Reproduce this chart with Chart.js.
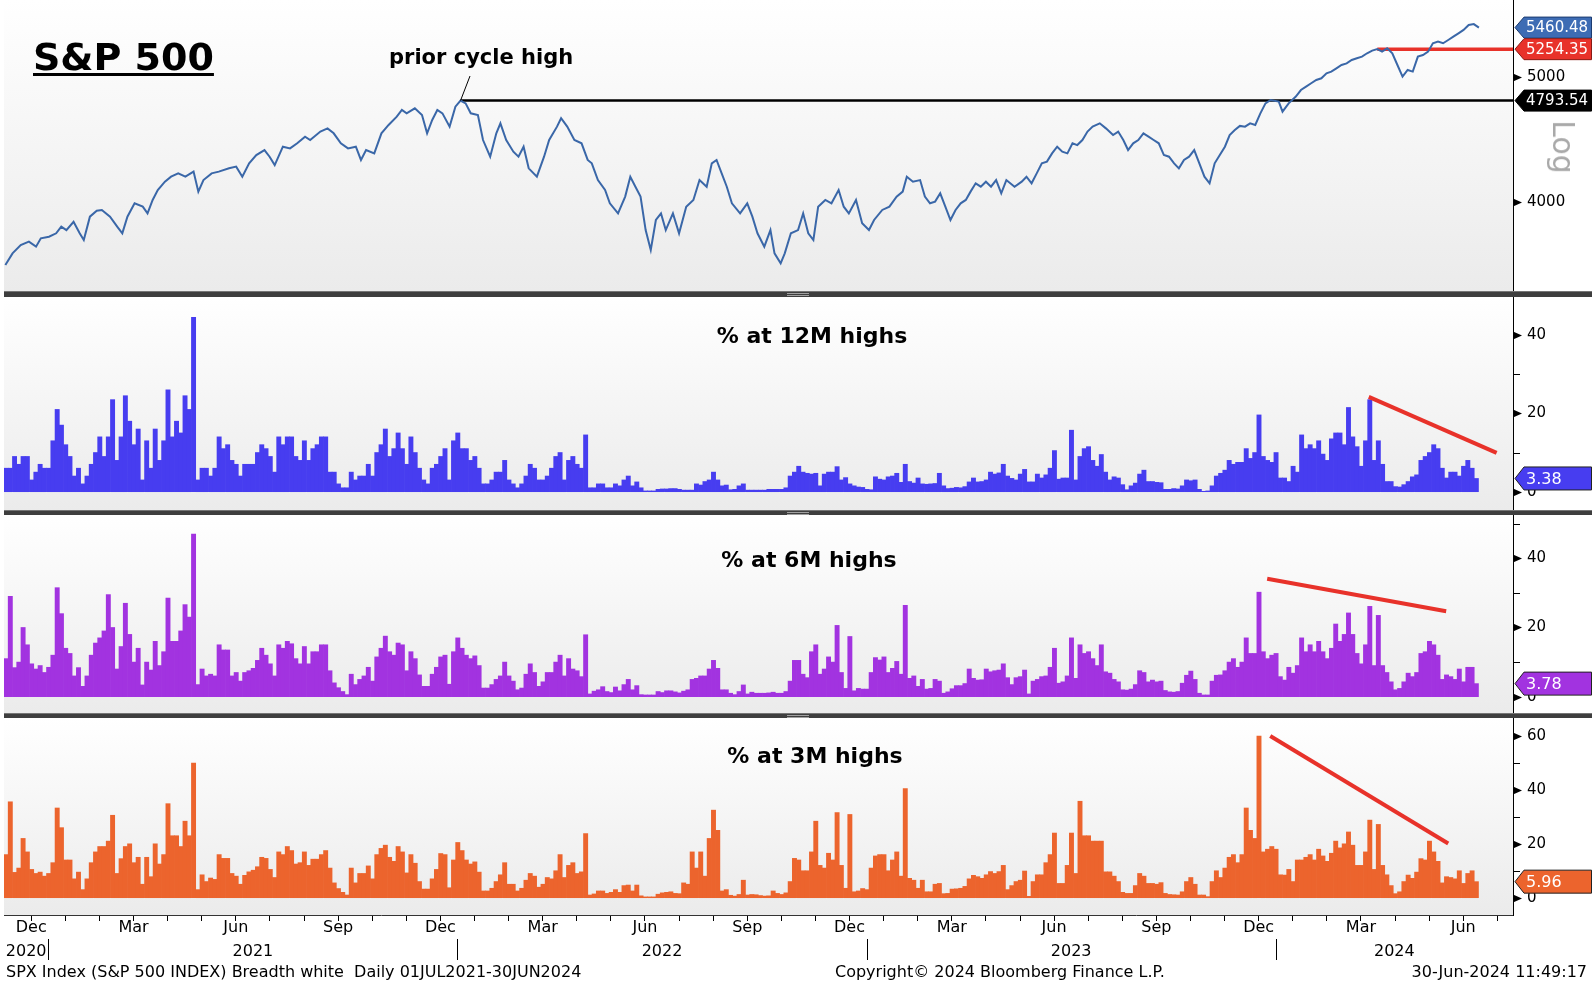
<!DOCTYPE html>
<html>
<head>
<meta charset="utf-8">
<title>S&amp;P 500 breadth</title>
<script src="https://cdn.jsdelivr.net/npm/chart.js@4.4.1/dist/chart.umd.min.js"></script>
<style>
  html, body { margin: 0; padding: 0; background: #fff; }
  body { position: relative; width: 1592px; height: 982px; overflow: hidden; font-family: "DejaVu Sans", sans-serif; }
  canvas { position: absolute; left: 0; }
  .sep { position: absolute; left: 4px; width: 1588px; height: 5px; background: #3e3e3e; border-top: 1px solid #757575; }
  .grip { position: absolute; left: 783px; top: 1px; width: 22px; height: 1px; border-top: 1px solid #a0a0a0; border-bottom: 1px solid #a0a0a0; }
  .txt { position: absolute; white-space: nowrap; line-height: 1; color: #000; }
  .ttl { font-weight: bold; font-size: 22px; width: 400px; text-align: center; }
  .foot { font-size: 16px; }
</style>
</head>
<body>
<canvas id="spx" width="1592" height="291" style="top:0"></canvas>
<div class="sep" style="top:291px"><div class="grip"></div></div>
<canvas id="h12" width="1592" height="213" style="top:297px"></canvas>
<div class="sep" style="top:510px;height:4px"><div class="grip"></div></div>
<canvas id="h6" width="1592" height="198" style="top:515px"></canvas>
<div class="sep" style="top:713px;height:4px"><div class="grip"></div></div>
<canvas id="h3" width="1592" height="264" style="top:718px"></canvas>

<div class="txt" style="left:33px;top:38px;font-size:38px;font-weight:bold;text-decoration:underline;text-decoration-thickness:3px;text-underline-offset:3px">S&amp;P 500</div>
<div class="txt" style="left:389px;top:47px;font-size:21px;font-weight:bold">prior cycle high</div>
<div class="txt" style="left:1563px;top:147px;font-size:30px;color:#a9a9a9;transform:translate(-50%,-50%) rotate(90deg)">Log</div>
<div class="txt ttl" style="left:612px;top:325px">% at 12M highs</div>
<div class="txt ttl" style="left:609px;top:549px">% at 6M highs</div>
<div class="txt ttl" style="left:615px;top:745px">% at 3M highs</div>
<div class="txt foot" style="left:6px;top:964px">SPX Index (S&amp;P 500 INDEX) Breadth white&nbsp; Daily 01JUL2021-30JUN2024</div>
<div class="txt foot" style="left:835px;top:964px">Copyright© 2024 Bloomberg Finance L.P.</div>
<div class="txt foot" style="right:5px;top:964px">30-Jun-2024 11:49:17</div>

<script>
// time axis in months since 1 Jan 2021
const X_MIN = -1.3, X_MAX = 42.96;
const BAR_START = -1.24, BAR_STEP = 0.125;   // ~2.6 trading days per bar

const monthNames = ['Jan','Feb','Mar','Apr','May','Jun','Jul','Aug','Sep','Oct','Nov','Dec'];
const quarterMonths = ['Dec','Mar','Jun','Sep'];
const yearLabels = ['2020','2021','2022','2023','2024'];

// S&P 500: sample dates (months since Jan 2021) and closes
const spxDates = [
  -1.26, -1.05, -0.81, -0.57, -0.36, -0.22, 0.02, 0.23, 0.38, 0.53,
  0.74, 0.92, 1.04, 1.22, 1.42, 1.57, 1.81, 2.02, 2.17, 2.32,
  2.53, 2.77, 2.91, 3.06, 3.21, 3.42, 3.6, 3.81, 4.02, 4.26,
  4.4, 4.55, 4.79, 5.0, 5.3, 5.51, 5.69, 5.89, 6.1, 6.34,
  6.49, 6.64, 6.88, 7.09, 7.3, 7.53, 7.68, 7.98, 8.19, 8.37,
  8.58, 8.79, 9.02, 9.17, 9.32, 9.56, 9.77, 9.98, 10.22, 10.37,
  10.51, 10.75, 10.96, 11.11, 11.26, 11.41, 11.56, 11.77, 11.94, 12.09,
  12.24, 12.39, 12.6, 12.75, 12.96, 13.14, 13.26, 13.43, 13.64, 13.79,
  13.94, 14.09, 14.33, 14.54, 14.69, 14.92, 15.04, 15.22, 15.43, 15.64,
  15.82, 15.94, 16.12, 16.33, 16.47, 16.71, 16.92, 17.07, 17.22, 17.37,
  17.52, 17.67, 17.82, 17.97, 18.11, 18.32, 18.5, 18.71, 18.92, 19.1,
  19.31, 19.46, 19.6, 19.75, 19.9, 20.05, 20.29, 20.5, 20.65, 20.8,
  21.0, 21.18, 21.3, 21.48, 21.6, 21.78, 21.99, 22.14, 22.29, 22.44,
  22.58, 22.79, 22.97, 23.18, 23.33, 23.48, 23.69, 23.87, 24.07, 24.22,
  24.46, 24.67, 24.88, 25.06, 25.18, 25.36, 25.57, 25.71, 25.86, 26.01,
  26.16, 26.31, 26.46, 26.61, 26.76, 26.91, 27.05, 27.2, 27.35, 27.5,
  27.65, 27.8, 27.95, 28.1, 28.34, 28.55, 28.69, 28.84, 28.99, 29.14,
  29.29, 29.44, 29.59, 29.74, 29.89, 30.04, 30.18, 30.33, 30.48, 30.63,
  30.84, 31.02, 31.23, 31.38, 31.53, 31.67, 31.82, 31.97, 32.12, 32.27,
  32.42, 32.57, 32.72, 32.87, 33.02, 33.16, 33.31, 33.46, 33.61, 33.76,
  33.91, 34.06, 34.21, 34.36, 34.51, 34.65, 34.8, 34.95, 35.1, 35.25,
  35.4, 35.55, 35.7, 35.85, 36.09, 36.2, 36.38, 36.59, 36.74, 36.89,
  37.04, 37.19, 37.34, 37.49, 37.63, 37.78, 37.93, 38.08, 38.23, 38.38,
  38.53, 38.68, 38.83, 38.98, 39.12, 39.27, 39.42, 39.57, 39.72, 39.87,
  40.02, 40.17, 40.32, 40.47, 40.61, 40.76, 40.91, 41.06, 41.21, 41.36,
  41.51, 41.66, 41.81, 41.96
];
const spxClose = [
  3575, 3650, 3705, 3727, 3694, 3749, 3760, 3783, 3828, 3805,
  3862, 3783, 3738, 3897, 3939, 3944, 3897, 3828, 3783, 3897,
  3991, 3967, 3920, 4015, 4087, 4148, 4185, 4210, 4185, 4223,
  4075, 4160, 4210, 4223, 4248, 4261, 4185, 4286, 4350, 4389,
  4337, 4273, 4415, 4402, 4442, 4495, 4468, 4536, 4562, 4522,
  4442, 4402, 4415, 4312, 4389, 4363, 4522, 4590, 4658, 4714,
  4686, 4728, 4672, 4522, 4631, 4714, 4686, 4576, 4742, 4793.54,
  4770, 4686, 4672, 4468, 4337, 4522, 4603, 4468, 4376, 4337,
  4415, 4248, 4185, 4337, 4468, 4576, 4645, 4576, 4468, 4442,
  4312, 4286, 4160, 4087, 3991, 3920, 4039, 4185, 4111, 4039,
  3805, 3672, 3874, 3920, 3805, 3920, 3783, 3967, 4015, 4160,
  4111, 4286, 4312, 4210, 4111, 3991, 3920, 3991, 3897, 3783,
  3694, 3805, 3650, 3586, 3650, 3783, 3805, 3920, 3783, 3738,
  3967, 4015, 3991, 4087, 3967, 3920, 4015, 3851, 3805, 3874,
  3944, 3967, 4039, 4075, 4185, 4148, 4160, 4039, 3991, 4003,
  4063, 3967, 3874, 3944, 3991, 4015, 4075, 4136, 4111, 4148,
  4111, 4160, 4063, 4160, 4111, 4148, 4185, 4136, 4210, 4286,
  4299, 4363, 4415, 4376, 4363, 4442, 4428, 4468, 4536, 4576,
  4603, 4562, 4508, 4536, 4468, 4389, 4442, 4468, 4522, 4495,
  4468, 4442, 4350, 4337, 4286, 4248, 4312, 4337, 4389, 4286,
  4185, 4136, 4286, 4350, 4415, 4508, 4549, 4582, 4576, 4603,
  4590, 4686, 4770, 4799, 4785, 4700, 4770, 4828, 4885, 4914,
  4944, 4973, 4988, 5033, 5048, 5078, 5108, 5123, 5154, 5170,
  5185, 5216, 5241, 5254.35, 5231, 5262, 5216, 5108, 5003, 5063,
  5048, 5185, 5200, 5231, 5310, 5326, 5310, 5341, 5373, 5405,
  5438, 5486, 5495, 5460.48
];
const priorHigh = { from: 12.09, value: 4793.54 };
const marchHigh = { from: 38.98, value: 5254.35 };

// % of members at 12 month highs
const high12 = [
  6, 6, 9, 7, 9, 9, 3, 5, 7, 6,
  6, 13, 21, 17, 12, 9, 4, 6, 2, 4,
  7, 10, 14, 9, 14, 23.5, 8, 14, 24.5, 18,
  12, 16, 3, 13, 6, 16, 8, 13, 26, 14,
  18, 15, 24.5, 21, 44.5, 3, 6, 6, 4, 6,
  14, 11, 12, 8, 7, 4, 7, 7, 7, 10,
  12, 11, 9, 5, 14, 12, 14, 14, 9, 8,
  13, 8, 11, 12, 14, 14, 5, 5, 2, 1,
  1, 5, 3, 4, 4, 7, 4, 10, 12, 16,
  9, 11, 15, 11, 7, 14, 10, 6, 3, 2,
  6, 7, 9, 11, 3, 13, 15, 11, 11, 8,
  9, 6, 2, 2, 3, 5, 5, 8, 3, 2,
  1, 2, 4, 7, 6, 3, 3, 4, 6, 9,
  10, 3, 8, 9, 7, 6, 14.5, 1, 1, 2,
  2, 1, 1, 2, 1.5, 3, 4, 1.5, 2.5, 1,
  0.2, 0.2, 0.2, 0.6, 0.7, 0.7, 0.8, 0.8, 0.6, 0.4,
  0.4, 0.4, 2, 1.7, 2.6, 3, 5, 3, 1.5, 1.7,
  0.5, 0.6, 1.5, 2, 0.4, 0.4, 0.4, 0.4, 0.4, 0.6,
  0.6, 0.6, 0.6, 1, 4, 5, 6.5, 5, 4.7, 4.5,
  4.7, 1.5, 4.5, 5, 5, 6.4, 3, 3.6, 2, 1.5,
  1.2, 1.1, 0.6, 0.5, 3.8, 3.2, 3, 3.8, 4, 4.7,
  2.4, 7, 2.6, 2.2, 3.5, 2, 1.9, 2, 2.1, 4.7,
  1.5, 0.8, 0.9, 1.1, 1, 1.3, 2.5, 3.5, 2.5, 2.6,
  3, 5, 4.5, 4.8, 7, 4, 3.4, 3, 4.5, 5.7,
  2.5, 2.5, 4.5, 3.5, 4.3, 6, 10.5, 3.2, 3.5, 3.5,
  15.7, 3, 9, 11, 11.5, 8, 6.5, 9.5, 5, 3,
  3.8, 3.5, 1.8, 0.5, 1.5, 2.2, 4.5, 5.5, 2.6, 2.6,
  2.4, 2.3, 0.6, 0.6, 0.8, 0.7, 1.5, 3, 2.8, 3,
  0.6, 0.1, 0.2, 1.5, 4, 4.7, 5.5, 8, 7, 7.5,
  7.5, 11, 8.5, 10, 19.6, 9, 8, 7.5, 10, 3.5,
  3.5, 2.6, 6.5, 5, 14.5, 11, 12, 11, 13, 9.6,
  8, 13.5, 15, 15, 12, 21.5, 14, 11.5, 6.5, 13,
  23.5, 8, 13, 7, 2.6, 2.6, 1.3, 1.2, 1.8, 2.6,
  3.8, 4.3, 8, 9, 10, 12, 11, 6, 3.5, 5,
  5, 4, 6.5, 8, 6, 3.38
];

// % of members at 6 month highs
const high6 = [
  11, 29, 8.4, 10, 20, 15, 9.5, 8, 9, 7,
  8.5, 12, 31.5, 24, 14, 12.5, 6, 8.4, 3, 6,
  12, 15.5, 17, 19, 29.5, 20, 8, 14.5, 27, 18,
  10, 14, 3.4, 10, 7.7, 16, 9, 13, 28.5, 16,
  16, 19, 26.6, 23, 47, 3.5, 8, 6, 6.5, 6,
  15, 13.5, 13.5, 6, 7, 4.5, 7, 7.5, 8.2, 10.5,
  14, 12, 9.5, 6, 15, 14, 16, 15.3, 11, 9.5,
  14.5, 9.5, 13, 13, 15, 15, 7.5, 4, 2.6, 1.5,
  0.6, 6.5, 3.5, 5, 6, 8.5, 4.5, 11.5, 14, 17.5,
  13, 12, 15.5, 15, 7.5, 13, 11, 6.3, 3, 3,
  6.5, 8.5, 11.5, 12, 3.6, 13, 17, 14, 12, 11,
  11.8, 9, 2.5, 2.5, 3.5, 5, 6, 10, 6, 4.5,
  2, 2.5, 6.5, 9.5, 7, 3, 4.3, 7, 7, 10,
  12, 6, 11, 8, 7.5, 5.8, 17.9, 0.8, 1.6, 2,
  2.9, 1.5, 1.2, 2.8, 1.7, 3.5, 5, 2, 3.2, 0.6,
  0.5, 0.5, 0.5, 1.5, 1.2, 1.7, 1.7, 1.4, 1.1, 1.6,
  2, 5, 5.3, 6, 6, 8, 10.5, 8.2, 2, 2,
  1, 0.6, 1.5, 3.4, 0.8, 1.3, 1, 1, 1, 1.1,
  1.3, 1, 1, 1.5, 4.5, 10.5, 10.5, 6.5, 5.5, 13,
  15, 6.5, 8, 11.5, 10, 20.6, 7, 2.4, 17.4, 1.7,
  2.4, 2.2, 2.2, 7, 11.3, 10.6, 11.5, 7, 8.2, 10.2,
  6.5, 26.4, 5.3, 6, 3, 5, 2.2, 2.4, 5, 4.5,
  1, 1.4, 2.3, 3.2, 3.2, 3.8, 8, 5.3, 4.8, 4.9,
  8, 7.2, 7.5, 7.7, 9.5, 5.5, 3.5, 5.5, 5.8, 7.7,
  0.8, 4.5, 5, 5.8, 6, 8.5, 14, 3.9, 4.3, 6,
  17, 5.3, 15, 12.5, 13, 11, 9, 15, 7.2, 6.8,
  5, 4.3, 2, 1.9, 2.2, 3.5, 7.5, 7, 4.3, 4.8,
  4.3, 4.5, 1.8, 1.4, 1.3, 1.5, 3.9, 6.2, 7.4, 5,
  1, 0.5, 0.5, 4.5, 6.2, 6.3, 7.5, 10, 11, 8.5,
  10, 17, 12.5, 12.5, 30.2, 13, 11, 12, 12.5, 5.8,
  4.8, 8.5, 6.8, 9, 17, 13, 15, 13, 16, 13,
  11, 14, 21, 16, 18, 24.2, 18, 12.5, 9.5, 15,
  26.1, 9, 23.5, 9, 7, 4.3, 2, 2.4, 4.3, 6.8,
  5.8, 7, 12.5, 13, 16, 15, 12, 5, 6.3, 5.8,
  5, 8, 4.3, 8.5, 8.5, 3.78
];

// % of members at 3 month highs
const high3 = [
  16, 35.6, 9.4, 11, 22, 17, 10.5, 9, 9.5, 8,
  9, 13, 33.3, 26, 14, 14, 7, 9.5, 3, 7,
  13, 17, 19, 19, 21, 30.6, 9, 14.5, 19, 20,
  13, 15, 5, 15, 7.8, 20, 12.5, 16, 34.9, 23,
  23, 19, 28.4, 23, 50, 3, 8.5, 6, 7.3, 6.8,
  16, 14.6, 14.6, 9, 8, 5, 8.3, 9.6, 10.2, 11.5,
  15, 14.6, 10.5, 7.5, 17, 16, 19, 17.5, 12.5, 13,
  17, 12, 14.3, 14.3, 16, 17.5, 11, 5.5, 3.4, 2,
  1, 11, 5.5, 9, 9, 11.8, 7, 16, 18.3, 19.5,
  15, 13.5, 19, 17, 9.2, 16, 12.8, 6, 3.2, 3.2,
  7, 10.5, 16.4, 16, 3.7, 14, 20.5, 17.5, 14, 12.5,
  13.3, 9.5, 2.5, 2.5, 3.5, 6, 8.5, 13, 5, 5,
  2.5, 3.5, 6.5, 9, 8, 3.9, 5, 7.5, 7, 10,
  16, 7.5, 12, 13, 9, 9.6, 23.8, 1, 1.4, 2.5,
  2.5, 1.6, 2, 3, 2, 4.5, 4.7, 2.5, 4.7, 0.7,
  0.3, 0.3, 0.3, 1.3, 1.8, 2, 2.2, 1.6, 1.5, 5.5,
  5, 17, 11, 17, 8, 22, 32.5, 25, 2.5, 3,
  0.9, 0.6, 1.2, 6.5, 1, 1.2, 1.1, 0.8, 0.6, 0.7,
  2.5, 1.6, 1.2, 1.8, 6, 14.6, 14, 10, 10, 17,
  28.4, 12, 11, 16.5, 14, 31.6, 12, 3.5, 30.9, 2.2,
  2.5, 3.4, 3, 11, 15.5, 16, 16, 10, 14, 17,
  8, 40.5, 7.2, 6.5, 3.5, 6.5, 2.2, 2.2, 5, 5.3,
  1.5, 1.6, 3.2, 3.3, 3.5, 4.2, 7, 8.3, 7.8, 7.2,
  8.5, 9.7, 9, 9.7, 12, 3, 4.5, 6, 6.5, 9.9,
  0.5, 6, 8.5, 8.5, 13, 16, 24, 5.3, 5.3, 12,
  24, 9, 35.8, 23, 23, 21, 21, 21, 9.6, 9.6,
  8, 6, 2, 1.6, 1.6, 4.5, 9, 8, 5.3, 5.3,
  5, 5.6, 1.6, 1.2, 1.1, 1, 2.2, 6, 7.5, 5,
  1, 1, 0.4, 6, 10, 7.5, 11, 15, 16, 13,
  16, 33.3, 25, 22, 60, 17, 18, 19, 18, 8.5,
  8.4, 10.5, 6, 14, 14, 15, 16, 14, 18, 15.5,
  13.5, 16.5, 21, 18.5, 20, 24.4, 19.5, 12, 12, 17,
  28.8, 10.5, 27.2, 12, 8.5, 4.5, 1.5, 2.2, 6, 8.4,
  7.2, 9.5, 14.5, 14, 21, 17, 13.5, 5.5, 7.8, 7.5,
  7, 10, 5.3, 9, 10, 5.96
];

// hand drawn trend lines (month, %)
const trend12 = [{ x: 38.73, y: 24.2 }, { x: 42.48, y: 9.9 }];
const trend6 = [{ x: 35.75, y: 34.1 }, { x: 41.0, y: 24.7 }];
const trend3 = [{ x: 35.84, y: 60.0 }, { x: 41.06, y: 20.1 }];

const AXIS_W = 79;
const BLUE_LINE = '#3a67a8';
const RED = '#e8322a';

Chart.defaults.font.family = '"DejaVu Sans", sans-serif';

const toPoints = (vals, start, step) => vals.map((v, i) => ({ x: start + i * step, y: v }));
const last = arr => arr[arr.length - 1];

const panelBg = {
  id: 'panelBg',
  beforeDraw(chart) {
    const { ctx, chartArea: a } = chart;
    const g = ctx.createLinearGradient(0, a.top, 0, a.bottom);
    g.addColorStop(0, '#ffffff');
    g.addColorStop(1, '#ebebeb');
    ctx.save();
    ctx.fillStyle = g;
    ctx.fillRect(a.left, a.top, a.right - a.left, a.bottom - a.top);
    ctx.restore();
  }
};

function drawTag(ctx, x0, py, h, tag, fontSize) {
  const tip = x0 + 2, body = x0 + 11, right = 1591.5;
  ctx.beginPath();
  ctx.moveTo(tip, py);
  ctx.lineTo(body, py - h / 2);
  ctx.lineTo(right, py - h / 2);
  ctx.lineTo(right, py + h / 2);
  ctx.lineTo(body, py + h / 2);
  ctx.closePath();
  ctx.fillStyle = tag.fill;
  ctx.fill();
  ctx.lineWidth = 1;
  ctx.strokeStyle = tag.stroke;
  ctx.stroke();
  ctx.fillStyle = '#fff';
  ctx.font = fontSize + 'px "DejaVu Sans"';
  ctx.textAlign = 'left';
  ctx.textBaseline = 'middle';
  ctx.fillText(tag.text, body + 2, py + 1);
}

// bloomberg style arrow ticks, minor ticks and last value tags
const axisMarks = {
  id: 'axisMarks',
  afterDraw(chart, args, opts) {
    const ys = chart.scales.y, ctx = chart.ctx, x0 = chart.chartArea.right;
    ctx.save();
    ctx.fillStyle = '#000';
    ctx.strokeStyle = '#000';
    ctx.lineWidth = 1;
    (opts.major || []).forEach(v => {
      const py = Math.round(ys.getPixelForValue(v)) + 0.5;
      ctx.beginPath();
      ctx.moveTo(x0, py - 4);
      ctx.lineTo(x0 + 9, py);
      ctx.lineTo(x0, py + 4);
      ctx.closePath();
      ctx.fill();
    });
    (opts.minor || []).forEach(v => {
      const py = Math.round(ys.getPixelForValue(v)) + 0.5;
      ctx.beginPath();
      ctx.moveTo(x0, py);
      ctx.lineTo(x0 + 7, py);
      ctx.stroke();
    });
    (opts.tags || []).forEach(t => drawTag(ctx, x0, ys.getPixelForValue(t.value), opts.tagH, t, opts.tagFont));
    ctx.restore();
  }
};

const pointer = {
  id: 'pointer',
  afterDatasetsDraw(chart) {
    const { ctx, scales } = chart;
    ctx.save();
    ctx.strokeStyle = '#000';
    ctx.lineWidth = 1;
    ctx.beginPath();
    ctx.moveTo(470, 76);
    ctx.lineTo(scales.x.getPixelForValue(priorHigh.from), scales.y.getPixelForValue(priorHigh.value));
    ctx.stroke();
    ctx.restore();
  }
};

const timeLabels = {
  id: 'timeLabels',
  afterDraw(chart) {
    const sx = chart.scales.x, ctx = chart.ctx;
    ctx.save();
    ctx.fillStyle = '#000';
    ctx.strokeStyle = '#000';
    ctx.lineWidth = 1;
    ctx.font = '16px "DejaVu Sans"';
    ctx.textAlign = 'center';
    ctx.textBaseline = 'alphabetic';
    for (let m = -1; m <= 41; m++) {
      const name = monthNames[(m + 12) % 12];
      if (quarterMonths.includes(name)) ctx.fillText(name, sx.getPixelForValue(m + 0.5), 214);
    }
    yearLabels.forEach((label, k) => {
      const a = Math.max(X_MIN, (k - 1) * 12), b = Math.min(X_MAX, k * 12);
      ctx.fillText(label, sx.getPixelForValue((a + b) / 2), 238);
      if (k * 12 < X_MAX) {
        const px = Math.round(sx.getPixelForValue(k * 12)) + 0.5;
        ctx.beginPath();
        ctx.moveTo(px, 221);
        ctx.lineTo(px, 242);
        ctx.stroke();
      }
    });
    ctx.restore();
  }
};

function xAxis() {
  return { type: 'linear', min: X_MIN, max: X_MAX, offset: false, display: false };
}

function yAxis(type, min, max, ticks, majors) {
  return {
    type: type, position: 'right', min: min, max: max,
    afterBuildTicks: s => { s.ticks = ticks.map(v => ({ value: v })); },
    afterFit: s => { s.width = AXIS_W; s.paddingTop = 0; s.paddingBottom = 0; },
    grid: { display: false, drawTicks: false },
    border: { display: true, color: '#000', width: 1 },
    ticks: {
      autoSkip: false, padding: 14, color: '#000', font: { size: 15 },
      callback: v => majors.includes(v) ? String(v) : ''
    }
  };
}

function baseOptions(scales, marks) {
  return {
    responsive: false,
    animation: false,
    devicePixelRatio: 1,
    layout: { padding: { left: 4, right: 0, top: 0, bottom: 0 } },
    plugins: { legend: { display: false }, tooltip: { enabled: false }, axisMarks: marks },
    scales: scales
  };
}

// top: S&P 500 log
new Chart(document.getElementById('spx'), {
  type: 'line',
  data: {
    datasets: [
      { data: spxDates.map((d, i) => ({ x: d, y: spxClose[i] })), borderColor: BLUE_LINE, borderWidth: 2, pointRadius: 0, tension: 0 },
      { data: [{ x: priorHigh.from, y: priorHigh.value }, { x: X_MAX, y: priorHigh.value }], borderColor: '#000', borderWidth: 2.5, pointRadius: 0 },
      { data: [{ x: marchHigh.from, y: marchHigh.value }, { x: X_MAX, y: marchHigh.value }], borderColor: RED, borderWidth: 3.5, pointRadius: 0 }
    ]
  },
  options: baseOptions(
    { x: xAxis(), y: yAxis('logarithmic', 3413, 5736, [4000, 5000], [4000, 5000]) },
    {
      major: [4000, 5000], minor: [], tagH: 21, tagFont: 15,
      tags: [
        { value: last(spxClose), text: last(spxClose).toFixed(2), fill: '#3d6cb4', stroke: '#1d3c70' },
        { value: marchHigh.value, text: marchHigh.value.toFixed(2), fill: RED, stroke: '#8a1a14' },
        { value: priorHigh.value, text: priorHigh.value.toFixed(2), fill: '#000', stroke: '#000' }
      ]
    }
  ),
  plugins: [panelBg, axisMarks, pointer]
});

function breadthChart(id, series, color, trend, yMin, yMax, ticks, majors, minors, withTime) {
  const x = xAxis();
  if (withTime) {
    Object.assign(x, {
      display: true, position: 'bottom',
      afterBuildTicks: s => { const t = []; for (let m = -1; m <= 42; m++) t.push({ value: m }); s.ticks = t; },
      afterFit: s => { s.height = 67; s.paddingLeft = 0; s.paddingRight = 0; },
      grid: { drawOnChartArea: false, drawTicks: true, tickLength: 6, color: '#000' },
      border: { display: true, color: '#333', width: 1 },
      ticks: { display: false }
    });
  }
  const v = last(series);
  return new Chart(document.getElementById(id), {
    type: 'bar',
    data: {
      datasets: [
        { type: 'line', data: trend, borderColor: RED, borderWidth: 4, pointRadius: 0, order: 0 },
        { type: 'bar', data: toPoints(series, BAR_START, BAR_STEP), backgroundColor: color, borderWidth: 0,
          barPercentage: 1, categoryPercentage: 1, order: 1 }
      ]
    },
    options: baseOptions(
      { x: x, y: yAxis('linear', yMin, yMax, ticks, majors) },
      { major: majors, minor: minors, tagH: 23, tagFont: 16,
        tags: [{ value: v, text: v.toFixed(2), fill: color, stroke: '#222' }] }
    ),
    plugins: withTime ? [panelBg, axisMarks, timeLabels] : [panelBg, axisMarks]
  });
}

breadthChart('h12', high12, '#473df0', trend12, -4.67, 49.7, [0, 10, 20, 30, 40], [0, 20, 40], [10, 30], false);
breadthChart('h6', high6, '#a233e0', trend6, -4.71, 52.5, [0, 10, 20, 30, 40, 50], [0, 20, 40], [10, 30, 50], false);
breadthChart('h3', high3, '#ec642d', trend3, -6.42, 66.7, [0, 10, 20, 30, 40, 50, 60], [0, 20, 40, 60], [10, 30, 50], true);
</script>
</body>
</html>
